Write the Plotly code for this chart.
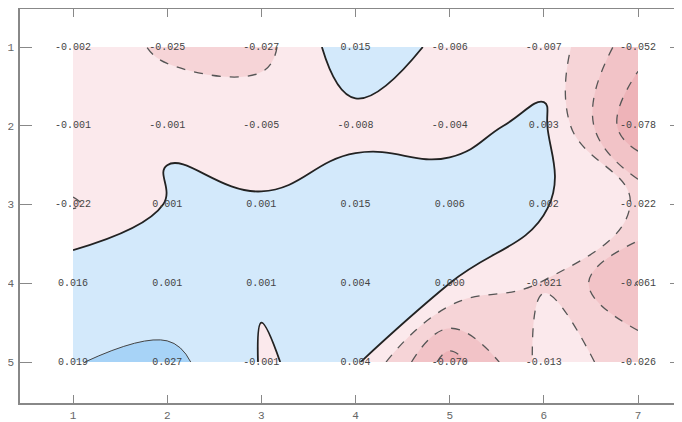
import plotly.graph_objects as go

x_vals = [1, 2, 3, 4, 5, 6, 7]
y_vals = [1, 2, 3, 4, 5]
z_rows = [
    [-0.002, -0.025, -0.027, 0.015, -0.006, -0.007, -0.052],
    [-0.001, -0.001, -0.005, -0.008, -0.004, 0.003, -0.078],
    [-0.022, 0.001, 0.001, 0.015, 0.006, 0.002, -0.022],
    [0.016, 0.001, 0.001, 0.004, 0.000, -0.021, -0.061],
    [0.019, 0.027, -0.001, 0.004, -0.070, -0.013, -0.026],
]

band_colors = ["#eeb3b8", "#f2c3c7", "#f6d4d7", "#fbe9ec", "#d3e9fb", "#a7d3f7"]
zmin, zmax = -0.08, 0.04
cs = []
n = len(band_colors)
for i, c in enumerate(band_colors):
    cs.append([i / n, c])
    cs.append([(i + 1) / n, c])

SMOOTH = 1.3
fig = go.Figure()
fig.add_trace(go.Contour(
    x=x_vals, y=y_vals, z=z_rows,
    zmin=zmin, zmax=zmax, zauto=False, colorscale=cs, showscale=False,
    autocontour=False,
    contours=dict(start=-0.06, end=0.02, size=0.02, coloring="fill", showlines=False),
    line=dict(width=0, smoothing=SMOOTH),
    hoverinfo="skip",
))
# negative contours dashed
fig.add_trace(go.Contour(
    x=x_vals, y=y_vals, z=z_rows, showscale=False, autocontour=False,
    contours=dict(start=-0.06, end=-0.02, size=0.02, coloring="none"),
    line=dict(color="#555555", width=1.3, dash="dash", smoothing=SMOOTH),
    hoverinfo="skip",
))
# zero contour solid
fig.add_trace(go.Contour(
    x=x_vals, y=y_vals, z=z_rows, showscale=False, autocontour=False,
    contours=dict(start=0, end=0, size=0.02, coloring="none"),
    line=dict(color="#222222", width=1.8, smoothing=SMOOTH),
    hoverinfo="skip",
))
# positive contour
fig.add_trace(go.Contour(
    x=x_vals, y=y_vals, z=z_rows, showscale=False, autocontour=False,
    contours=dict(start=0.02, end=0.02, size=0.02, coloring="none"),
    line=dict(color="#444444", width=1, smoothing=SMOOTH),
    hoverinfo="skip",
))

tx, ty, tt = [], [], []
for j, yv in enumerate(y_vals):
    for i, xv in enumerate(x_vals):
        v = z_rows[j][i]
        tx.append(xv)
        ty.append(yv)
        tt.append(f"{v:.3f}")
fig.add_trace(go.Scatter(
    x=tx, y=ty, text=tt, mode="text",
    textfont=dict(family="Liberation Mono", size=10, color="#444444"),
    hoverinfo="skip", showlegend=False,
))

axis_common = dict(
    showgrid=False, zeroline=False, showline=True, linecolor="#888888", linewidth=1.5,
    mirror="ticks", ticks="inside", tickcolor="#888888", tickwidth=1,
    tickfont=dict(family="Liberation Mono", size=11, color="#666666"),
    dtick=1, tick0=1, automargin=False,
)
fig.update_layout(
    width=682, height=422,
    margin=dict(l=12, r=8, t=1, b=27, pad=0),
    paper_bgcolor="white", plot_bgcolor="white",
    showlegend=False,
    xaxis=dict(range=[0.437, 7.467], ticklen=8, ticklabelstandoff=1, **axis_common),
    yaxis=dict(range=[5.52, 0.517], ticklen=12, ticklabelstandoff=2, **axis_common),
)
fig.write_html("out.html")
